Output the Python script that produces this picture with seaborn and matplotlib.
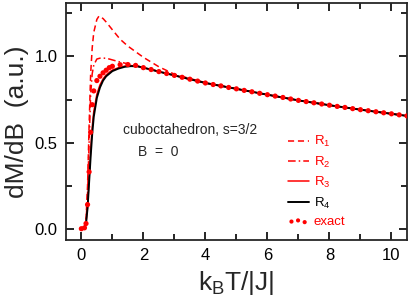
import numpy as np
import pandas as pd
import seaborn as sns
import matplotlib.pyplot as plt

# temperatures (k_B T / |J|) and dM/dB values
t_exact = [0.0, 0.1, 0.15, 0.2, 0.25, 0.3, 0.35, 0.4, 0.5, 0.6, 0.7, 0.8, 0.9, 1.0,
           1.25, 1.5, 1.75, 2.0, 2.25, 2.5, 2.75, 3.0, 3.25, 3.5, 3.75, 4.0, 4.25,
           4.5, 4.75, 5.0, 5.25, 5.5, 5.75, 6.0, 6.25, 6.5, 6.75, 7.0, 7.25, 7.5,
           7.75, 8.0, 8.25, 8.5, 8.75, 9.0, 9.25, 9.5, 9.75, 10.0, 10.25, 10.5]
m_exact = [0.0, 0.005, 0.03, 0.14, 0.33, 0.56, 0.72, 0.80, 0.86, 0.885, 0.905, 0.92,
           0.935, 0.943, 0.952, 0.953, 0.948, 0.935, 0.924, 0.912, 0.901, 0.89,
           0.879, 0.868, 0.857, 0.846, 0.837, 0.829, 0.820, 0.812, 0.803, 0.795,
           0.786, 0.778, 0.770, 0.762, 0.753, 0.745, 0.738, 0.731, 0.724, 0.717,
           0.710, 0.704, 0.697, 0.691, 0.685, 0.679, 0.673, 0.667, 0.661, 0.655]

t_r1 = [0.05, 0.1, 0.15, 0.2, 0.25, 0.3, 0.35, 0.4, 0.5, 0.57, 0.7, 0.8, 1.0, 1.25,
        1.5, 2.0, 2.5, 3.0, 3.5, 4.0, 5.0, 6.0, 7.0, 8.0, 9.0, 10.0, 10.5]
m_r1 = [0.0, 0.005, 0.05, 0.25, 0.6, 0.9, 1.05, 1.14, 1.215, 1.235, 1.22, 1.20,
        1.155, 1.10, 1.06, 0.995, 0.94, 0.897, 0.872, 0.848, 0.812, 0.778, 0.745,
        0.717, 0.691, 0.667, 0.655]

t_r2 = [0.05, 0.1, 0.15, 0.2, 0.25, 0.3, 0.35, 0.4, 0.5, 0.6, 0.8, 1.0, 1.2, 1.5,
        2.0, 2.5, 3.0, 4.0, 5.0, 6.0, 7.0, 8.0, 9.0, 10.0, 10.5]
m_r2 = [0.0, 0.005, 0.04, 0.2, 0.5, 0.78, 0.9, 0.95, 0.985, 0.99, 0.99, 0.98, 0.97,
        0.957, 0.936, 0.913, 0.89, 0.846, 0.812, 0.778, 0.745, 0.717, 0.691,
        0.667, 0.655]

t_r3 = [0.05, 0.1, 0.15, 0.2, 0.25, 0.3, 0.35, 0.4, 0.5, 0.6, 0.7, 0.8, 0.9, 1.0,
        1.2, 1.4, 1.6, 1.8, 2.0, 2.5, 3.0, 4.0, 5.0, 6.0, 7.0, 8.0, 9.0, 10.0, 10.5]
m_r3 = [0.0, 0.003, 0.03, 0.13, 0.29, 0.46, 0.59, 0.68, 0.78, 0.835, 0.87, 0.893,
        0.908, 0.921, 0.935, 0.944, 0.947, 0.944, 0.935, 0.912, 0.89, 0.846, 0.812,
        0.778, 0.745, 0.717, 0.691, 0.667, 0.655]

t_r4 = [0.05, 0.1, 0.15, 0.2, 0.25, 0.3, 0.35, 0.4, 0.5, 0.6, 0.7, 0.8, 0.9, 1.0,
        1.2, 1.4, 1.6, 1.8, 2.0, 2.5, 3.0, 4.0, 5.0, 6.0, 7.0, 8.0, 9.0, 10.0, 10.5]
m_r4 = [0.0, 0.0, 0.03, 0.12, 0.27, 0.42, 0.55, 0.65, 0.76, 0.82, 0.86, 0.885,
        0.9, 0.915, 0.93, 0.94, 0.944, 0.943, 0.935, 0.912, 0.89, 0.846, 0.812,
        0.778, 0.745, 0.717, 0.691, 0.667, 0.655]

sns.set_style("ticks")
plt.rcParams['font.family'] = ['Liberation Sans', 'DejaVu Sans']
plt.rcParams['mathtext.fontset'] = 'custom'
plt.rcParams['mathtext.rm'] = 'Liberation Sans'
plt.rcParams['mathtext.it'] = 'Liberation Sans'

fig = plt.figure(figsize=(4.09, 3.06), dpi=100)
ax = fig.add_axes([0.161, 0.216, 0.834, 0.774])

red = '#ff0000'
sns.lineplot(x=t_r1, y=m_r1, ax=ax, color=red, lw=1.1,
             label='R$_1$').lines[-1].set_dashes([4, 2.5])
sns.lineplot(x=t_r2, y=m_r2, ax=ax, color=red, lw=1.1,
             label='R$_2$').lines[-1].set_dashes([5, 2, 1, 2])
sns.lineplot(x=t_r3, y=m_r3, ax=ax, color=red, lw=1.1, label='R$_3$')
sns.lineplot(x=t_r4, y=m_r4, ax=ax, color='black', lw=1.4, label='R$_4$')
sns.scatterplot(x=t_exact, y=m_exact, ax=ax, color=red, s=14, edgecolor='none',
                label='exact', zorder=5)

ax.set_xlim(-0.5, 10.5)
ax.set_ylim(-0.065, 1.31)
ax.set_xticks([0, 2, 4, 6, 8, 10])
ax.set_xticks(np.arange(0, 11, 1), minor=True)
ax.set_yticks([0.0, 0.5, 1.0])
ax.set_yticklabels(['0.0', '0.5', '1.0'])
ax.set_yticks([0.25, 0.75, 1.25], minor=True)
ax.tick_params(which='both', direction='in', top=True, right=True, width=1.2,
               labelsize=12, colors='black')
ax.tick_params(which='major', length=6, pad=6)
ax.tick_params(which='minor', length=4)
for s in ax.spines.values():
    s.set_linewidth(1.3)

ax.set_xlabel('k$_\\mathregular{B}$T/|J|', fontsize=19, labelpad=4)
ax.set_ylabel('dM/dB  (a.u.)', fontsize=19, labelpad=4)

ax.text(1.35, 0.574, 'cuboctahedron, s=3/2', fontsize=10, va='center')
ax.text(1.84, 0.448, 'B  =  0', fontsize=10, va='center')

leg = ax.legend(loc='lower left', bbox_to_anchor=(0.615, 0.0), frameon=False,
                fontsize=9.5, handlelength=1.6, handletextpad=0.4, labelspacing=0.4,
                scatterpoints=3, markerscale=0.8,
                labelcolor=[red, red, red, 'black', red])

fig.savefig('out.png', dpi=100)
